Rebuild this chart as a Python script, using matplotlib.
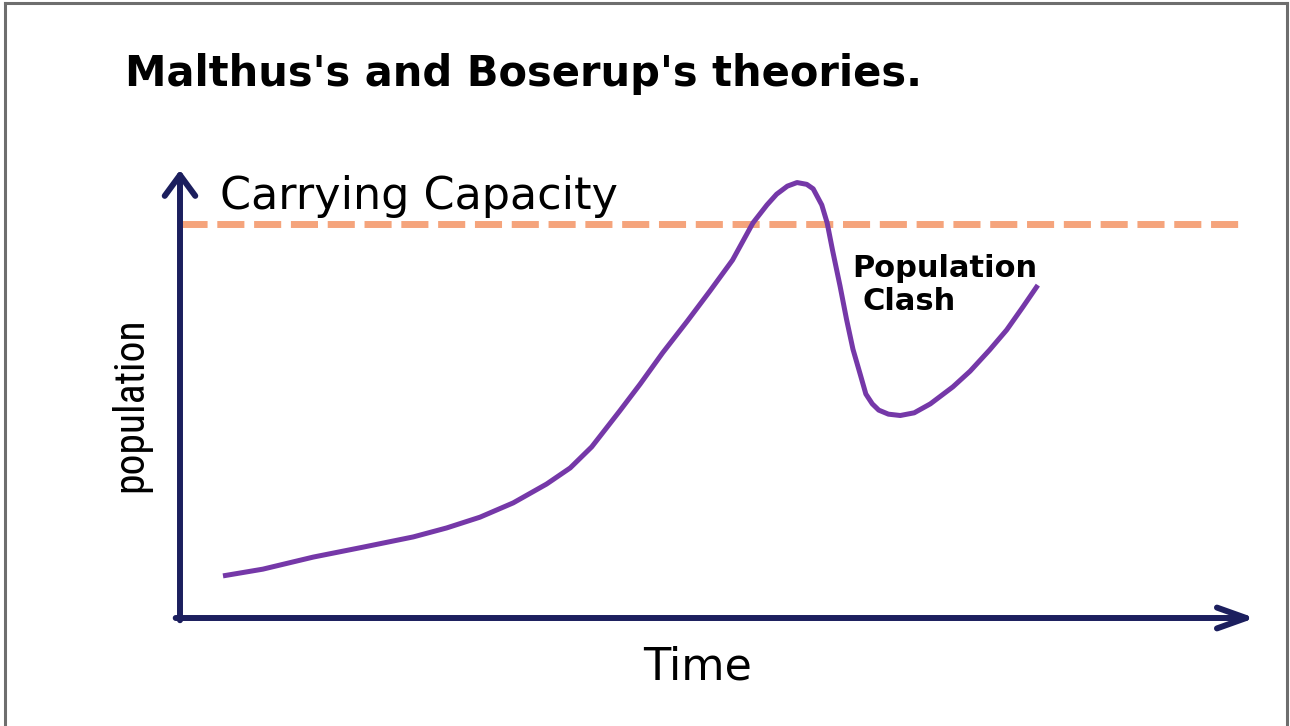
import matplotlib
matplotlib.use('Agg')
from matplotlib import pyplot as plt
from matplotlib.lines import Line2D
from matplotlib import font_manager

# values (time 0-100, population 0-100)
time = [4.0, 7.7, 12.4, 17.0, 21.7, 24.8, 27.9, 31.0, 34.1, 36.3, 38.3, 40.9, 42.8,
        44.9, 47.2, 49.3, 51.4, 53.3, 54.6, 55.5, 56.5, 57.4, 58.3, 58.9, 59.7, 60.2,
        60.7, 61.4, 62.0, 62.6, 63.3, 63.8, 64.4, 65.0, 65.9, 67.0, 68.3, 69.8, 71.9,
        73.5, 75.3, 76.9, 78.4, 79.8]
population = [9.4, 10.9, 13.6, 15.8, 18.1, 20.1, 22.5, 25.7, 29.9, 33.5, 38.2, 46.2, 52.2,
              59.2, 66.3, 73.0, 79.9, 88.2, 92.2, 94.6, 96.4, 97.2, 96.8, 95.8, 92.2, 88.2,
              82.1, 74.1, 66.7, 60.0, 54.2, 50.0, 47.8, 46.4, 45.5, 45.2, 45.8, 47.8, 51.6,
              55.1, 59.8, 64.3, 69.4, 74.3]
capacity = 88
capacity_span = [0, 99]

title = "Malthus's and Boserup's theories."

# a narrow face for the rotated axis label, if there is one
fonts = font_manager.fontManager.ttflist
narrow_kw = dict(family='DejaVu Sans')
for f in fonts:
    if f.name in ('Liberation Sans Narrow', 'Roboto Condensed', 'DejaVu Sans Condensed'):
        narrow_kw = dict(family=f.name)
        break
else:
    for f in fonts:
        if f.name == 'DejaVu Sans' and f.stretch == 'condensed' and f.weight in ('normal', 400):
            narrow_kw = dict(family='DejaVu Sans', fontstretch='condensed')
            break

W, H = 1290, 726
fig = plt.figure(figsize=(W / 100, H / 100), dpi=100)
fig.patch.set_facecolor('white')

# axes box: origin at px (180,618), x arrow tip at 1255, y arrow tip at 170
ax = fig.add_axes([180 / W, (H - 618) / H, (1255 - 180) / W, (618 - 170) / H])
ax.set_xlim(0, 100)
ax.set_ylim(0, 100)
ax.axis('off')

navy = '#1c1f5e'
ax.annotate('', xy=(100, 0), xytext=(-0.4, 0),
            arrowprops=dict(arrowstyle='->,head_length=21,head_width=7.5', mutation_scale=1,
                            lw=4.3, color=navy, capstyle='round', joinstyle='round',
                            shrinkA=0, shrinkB=0), annotation_clip=False)
ax.annotate('', xy=(0, 100), xytext=(0, -0.5),
            arrowprops=dict(arrowstyle='->,head_length=15,head_width=11', mutation_scale=1,
                            lw=4.3, color=navy, capstyle='round', joinstyle='round',
                            shrinkA=0, shrinkB=0), annotation_clip=False)

ax.plot(capacity_span, [capacity, capacity], color='#f5a47c', lw=5, dashes=(3.9, 1.4),
        solid_capstyle='butt', clip_on=False)
ax.plot(time, population, color='#7538a8', lw=3.6, solid_joinstyle='round',
        solid_capstyle='butt', clip_on=False)

fig.text(125 / W, 1 - 86 / H, title, fontsize=30, fontweight='bold', family='DejaVu Sans',
         va='baseline', ha='left')
fig.text(220 / W, 1 - 209 / H, 'Carrying Capacity', fontsize=32, family='DejaVu Sans',
         va='baseline', ha='left')
fig.text(131 / W, 1 - 405 / H, 'population', fontsize=30, rotation=90,
         va='center', ha='center', **narrow_kw)
fig.text(643 / W, 1 - 680 / H, 'Time', fontsize=32, family='DejaVu Sans',
         va='baseline', ha='left')
fig.text(852 / W, 1 - 277 / H, 'Population', fontsize=22, fontweight='bold',
         family='DejaVu Sans', va='baseline', ha='left')
fig.text(862 / W, 1 - 310 / H, 'Clash', fontsize=22, fontweight='bold',
         family='DejaVu Sans', va='baseline', ha='left')

# grey frame (no bottom edge)
border = '#6e6e6e'
for xs, ys in [([5, 1287], [3, 3]), ([5, 5], [3, H]), ([1287, 1287], [3, H])]:
    fig.add_artist(Line2D([x / W for x in xs], [1 - y / H for y in ys], color=border,
                          lw=2.2, transform=fig.transFigure))

fig.savefig('out.png', dpi=100, facecolor='white')
